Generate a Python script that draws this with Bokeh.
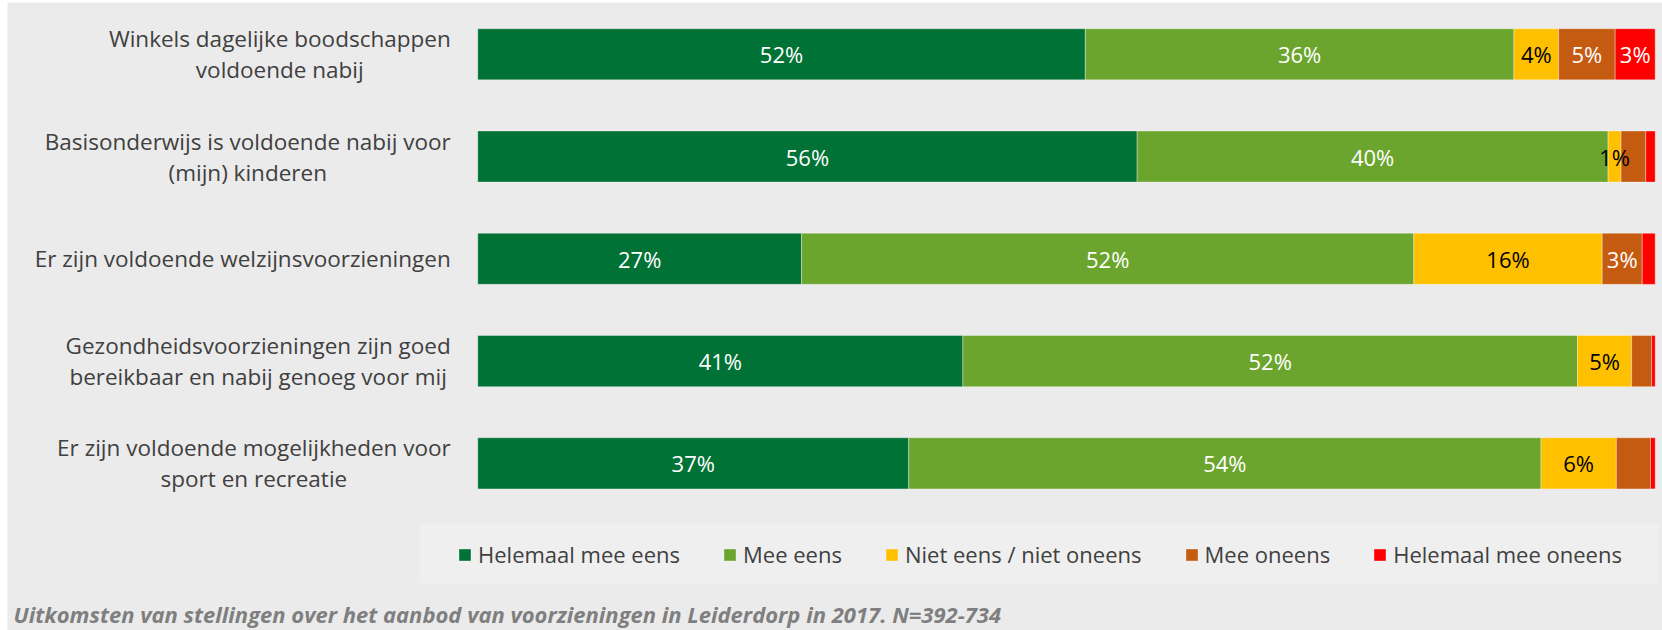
from bokeh.plotting import figure
from bokeh.models import ColumnDataSource, Range1d, Legend, LegendItem, Label, BoxAnnotation
from bokeh.core.properties import value
from bokeh.embed import file_html
from bokeh.resources import INLINE

# ---------------- data ----------------
categories = [
    "Winkels dagelijke boodschappen\nvoldoende nabij",
    "Basisonderwijs is voldoende nabij voor\n(mijn) kinderen",
    "Er zijn voldoende welzijnsvoorzieningen",
    "Gezondheidsvoorzieningen zijn goed\nbereikbaar en nabij genoeg voor mij",
    "Er zijn voldoende mogelijkheden voor\nsport en recreatie",
]
series_names = ["Helemaal mee eens", "Mee eens", "Niet eens / niet oneens",
                "Mee oneens", "Helemaal mee oneens"]
helemaal_mee_eens = [51.6, 56.0, 27.5, 41.2, 36.6]
mee_eens = [36.4, 40.0, 52.0, 52.2, 53.7]
niet_eens_niet_oneens = [3.8, 1.1, 16.0, 4.6, 6.4]
mee_oneens = [4.8, 2.1, 3.4, 1.7, 2.9]
helemaal_mee_oneens = [3.4, 0.8, 1.1, 0.3, 0.4]

labels_helemaal_mee_eens = ["52%", "56%", "27%", "41%", "37%"]
labels_mee_eens = ["36%", "40%", "52%", "52%", "54%"]
labels_niet_eens_niet_oneens = ["4%", "1%", "16%", "5%", "6%"]
labels_mee_oneens = ["5%", "", "3%", "", ""]
labels_helemaal_mee_oneens = ["3%", "", "", "", ""]

caption = "Uitkomsten van stellingen over het aanbod van voorzieningen in Leiderdorp in 2017. N=392-734"

# ---------------- styling ----------------
colors = ["#007236", "#6BA52E", "#FFC000", "#C55A11", "#FF0000"]
label_colors = ["white", "white", "black", "white", "white"]
BG = "#EBEBEB"
FONT = "Open Sans"

series = [helemaal_mee_eens, mee_eens, niet_eens_niet_oneens, mee_oneens, helemaal_mee_oneens]
series_labels = [labels_helemaal_mee_eens, labels_mee_eens, labels_niet_eens_niet_oneens,
                 labels_mee_oneens, labels_helemaal_mee_oneens]
keys = ["s0", "s1", "s2", "s3", "s4"]

ypos = list(range(len(categories)))
data = {"y": ypos}
for k, s in zip(keys, series):
    data[k] = s
source = ColumnDataSource(data)

W, H = 1662, 630
p = figure(width=W, height=H, output_backend="svg", toolbar_location=None,
           x_range=Range1d(-39.94, 100.62), y_range=Range1d(5.635, -0.5066),
           min_border=0, min_border_left=7, min_border_right=0,
           min_border_top=2, min_border_bottom=0)
p.axis.visible = False
p.grid.visible = False
p.outline_line_color = None
p.background_fill_color = BG
p.border_fill_color = "white"

# legend background box
p.add_layout(BoxAnnotation(left=-4.94, right=100.3, top=4.589, bottom=5.176,
                           fill_color="#EFEFEF", fill_alpha=1.0, line_alpha=0))

renderers = p.hbar_stack(keys, y="y", height=0.5, color=colors, source=source,
                         line_color="white", line_alpha=0.35, line_width=1)

# segment labels
for i, (s, labs) in enumerate(zip(series, series_labels)):
    xs, ys, ts = [], [], []
    for j in range(len(categories)):
        left = sum(series[k][j] for k in range(i))
        if labs[j]:
            xs.append(left + s[j] / 2.0)
            ys.append(ypos[j])
            ts.append(labs[j])
    p.text(x=xs, y=ys, text=ts, text_align="center", text_baseline="middle",
           text_color=label_colors[i], text_font=value(FONT), text_font_size="22px")

# category labels: right-aligned block, centered lines
p.text(x=[-2.3] * len(categories), y=ypos, text=categories, anchor="center_right",
       text_align="center", text_baseline="middle", text_color="#404040",
       text_font=value(FONT), text_font_size="22.5px", text_line_height=1.0)

legend = Legend(items=[LegendItem(label=n, renderers=[r]) for n, r in zip(series_names, renderers)],
                orientation="horizontal", location=(450, 61),
                glyph_width=15, glyph_height=15, label_standoff=6, spacing=42,
                label_height=30, padding=0, margin=0,
                background_fill_alpha=0, border_line_alpha=0,
                label_text_font=FONT, label_text_font_size="22px", label_text_color="#404040")
p.add_layout(legend)

p.add_layout(Label(x=-39.43, y=5.47, text=caption, text_font=FONT, text_font_size="22px",
                   text_font_style="bold italic", text_color="#7F7F7F", text_baseline="alphabetic"))

open("out.html", "w").write(file_html(p, INLINE))
